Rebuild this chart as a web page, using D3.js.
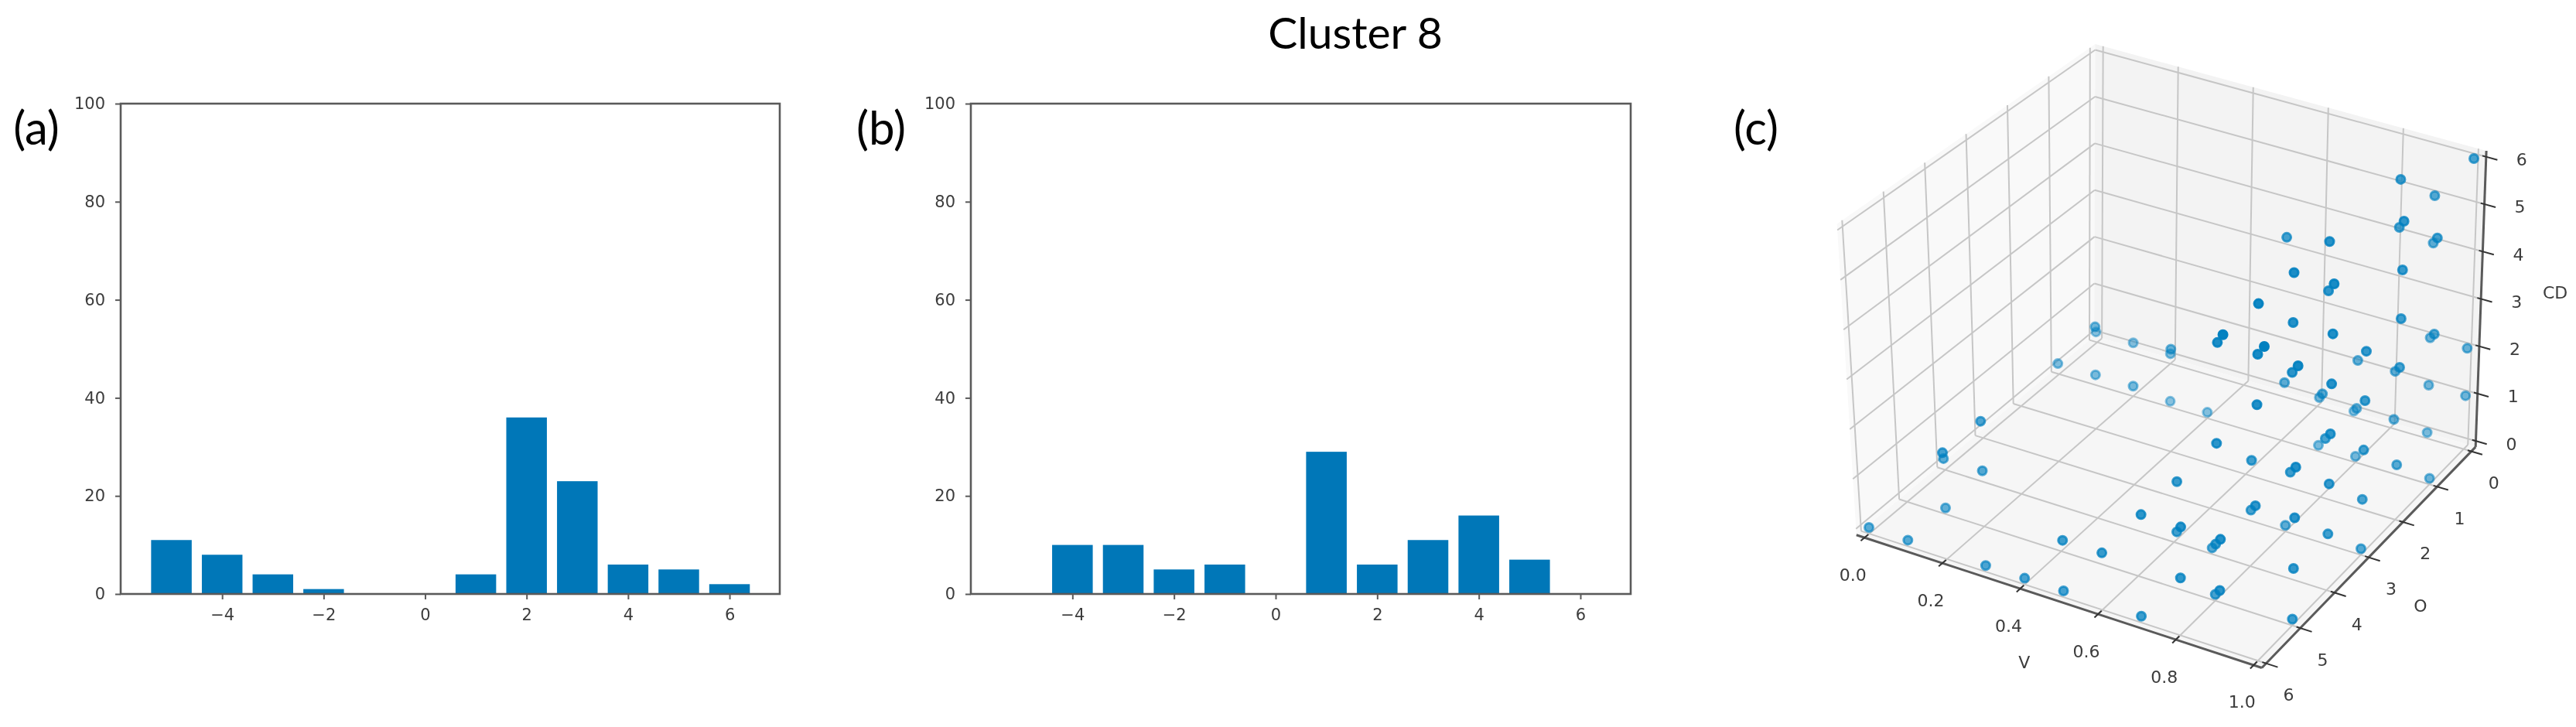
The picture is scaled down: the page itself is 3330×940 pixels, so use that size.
<!DOCTYPE html>
<html>
<head>
<meta charset="utf-8">
<style>
body { margin:0; background:#fff; }
svg { display:block; }
.plot { filter:blur(0.6px); }
</style>
<script src="https://cdnjs.cloudflare.com/ajax/libs/d3/7.8.5/d3.min.js"></script>
</head>
<body>
<script>
var width = 3330, height = 940;

// bar values (a) and (b)
var barBins = [-5,-4,-3,-2,-1,0,1,2,3,4,5,6];
var barsA = [11,8,4,1,0,0,4,36,23,6,5,2];
var barsB = [0,10,10,5,6,0,29,6,11,16,7,0];
var barTicksX = [-4,-2,0,2,4,6];
var barTicksY = [0,20,40,60,80,100];

// scatter values of panel (c)
var pointsV = [.2,.1,.2,.1,.2,.3,.2,.2,.1,.2,.1,0,.1,.3,.4,.5,.7,.5,.6,.7,.4,.3,
  1,.9,.9,1,.9,1,.9,.7,.9,.9,1,1,.9,.9,.9,1,1,.9,.8,1,.9,1,.8,1,.9,1,1,.9,1,.9,.7,1,.8,.7,1,.8,.7,.9,1,.9,.9,.3,.4,
  .9,1,.9,.7,1,.8,.8,1,1,.8,1,.9,1,.7,1,.9,.8,1,.8,1,.8,.7,1,.9,.8,.7,1,.8,.9,.8,1];
var pointsO = [2,1,1,2,2,2,5,6,5,5,5,6,6,6,6,6,6,6,6,6,2,1,
  0,1,0,2,1,1,0,2,3,4,2,4,3,5,4,2,4,6,5,6,5,3,1,1,0,0,2,1,5,4,2,4,2,1,3,1,0,0,0,1,0,1,1,
  5,4,3,1,3,1,5,2,1,4,5,4,4,5,3,5,4,5,3,4,6,5,3,6,5,4,5,6,6,5,5];
var pointsCD = [2,1,1,1,1,1,2,2,1,1,0,0,0,0,0,0,0,1,1,2,2,1,
  6,6,5,6,5,5,4,5,6,6,5,6,5,6,5,4,5,6,5,6,5,4,2,3,2,2,3,2,5,4,2,4,2,1,3,1,0,1,1,1,0,0,0,
  4,3,2,0,2,0,3,1,0,2,3,2,2,2,1,2,1,2,0,1,2,1,0,2,1,0,1,1,1,0,0];
var scatterTicksV = [0,.2,.4,.6,.8,1];
var scatterTicks = [0,1,2,3,4,5,6];

var blue = "#0077b8", dotBlue = "#0080c0", spine = "#5a5a5a", ink = "#3c3c3c";
var fontFig = "Lato, 'Open Sans', sans-serif", fontPlot = "'DejaVu Sans', sans-serif";

var svg = d3.select("body").append("svg")
  .attr("width", width)
  .attr("height", height);

svg.append("rect").attr("width", width).attr("height", height).attr("fill", "#fff");

// figure texts
function figText(x, y, size, s) {
  svg.append("text")
    .attr("x", x).attr("y", y)
    .attr("text-anchor", "middle")
    .attr("font-family", fontFig)
    .attr("font-size", size)
    .attr("fill", "#000")
    .text(s);
}
figText(1752, 63, 57, "Cluster 8");
figText(47, 187, 60, "(a)");
figText(1139, 187, 60, "(b)");
figText(2270, 187, 60, "(c)");

// bar panels
function barPanel(left, right, top, bottom, values) {
  var g = svg.append("g").attr("class", "plot");
  var x = d3.scaleLinear().domain([-6.0, 6.99]).range([left, right]);
  var y = d3.scaleLinear().domain([0, 100]).range([bottom, top]);

  g.selectAll("rect.bar")
    .data(values)
    .enter()
    .append("rect")
    .attr("class", "bar")
    .attr("x", function (d, i) { return x(barBins[i] - 0.4); })
    .attr("width", x(0.8) - x(0))
    .attr("y", function (d) { return y(d); })
    .attr("height", function (d) { return y(0) - y(d); })
    .attr("fill", blue);

  var ax = g.append("g")
    .attr("transform", "translate(0," + bottom + ")")
    .call(d3.axisBottom(x).tickValues(barTicksX).tickSize(7).tickPadding(12));
  var ay = g.append("g")
    .attr("transform", "translate(" + left + ",0)")
    .call(d3.axisLeft(y).tickValues(barTicksY).tickSize(7).tickPadding(13));

  [ax, ay].forEach(function (a) {
    a.select(".domain").remove();
    a.selectAll("line").attr("stroke", spine).attr("stroke-width", 2);
    a.selectAll("text")
      .attr("font-family", fontPlot)
      .attr("font-size", 21)
      .attr("fill", ink);
  });

  g.append("rect")
    .attr("x", left).attr("y", top)
    .attr("width", right - left).attr("height", bottom - top)
    .attr("fill", "none")
    .attr("stroke", spine)
    .attr("stroke-width", 2.6);
}
barPanel(156, 1008, 134, 768, barsA);
barPanel(1255, 2108, 134, 768, barsB);

// panel (c): the projection is fixed by where the 8 corners of the data box land
var cornerFloor = [[2711,435],[3185,573],[2416,682],[2919,846]]; // V0 O0, V1 O0, V0 O6, V1 O6
var cornerTop = [[2712,72],[3198,205],[2393,296],[2927,448]];

var vs = d3.scaleLinear().domain([0, 1]).range([0, 1]);
var os = d3.scaleLinear().domain([0, 6]).range([0, 1]);
var zs = d3.scaleLinear().domain([0, 6]).range([0, 1]);

function project(v, o, cd) {
  var a = vs(v), b = os(o), t = zs(cd);
  return [0, 1].map(function (i) {
    var f = (cornerFloor[0][i] * (1 - a) + cornerFloor[1][i] * a) * (1 - b) +
            (cornerFloor[2][i] * (1 - a) + cornerFloor[3][i] * a) * b;
    var u = (cornerTop[0][i] * (1 - a) + cornerTop[1][i] * a) * (1 - b) +
            (cornerTop[2][i] * (1 - a) + cornerTop[3][i] * a) * b;
    return f * (1 - t) + u * t;
  });
}

var g3 = svg.append("g").attr("class", "plot");
var v0 = -0.021, v1 = 1.021, m0 = -0.125, m1 = 6.125;
var line = d3.line();

function seg(a, b, color, w) {
  g3.append("path")
    .attr("d", line([project(a[0], a[1], a[2]), project(b[0], b[1], b[2])]))
    .attr("stroke", color)
    .attr("stroke-width", w)
    .attr("fill", "none");
}
function pane(list, color) {
  g3.append("path")
    .attr("d", line(list.map(function (p) { return project(p[0], p[1], p[2]); })) + "Z")
    .attr("fill", color);
}

pane([[v0,m0,m0],[v0,m1,m0],[v0,m1,m1],[v0,m0,m1]], "#f9f9f9");
pane([[v0,m0,m0],[v1,m0,m0],[v1,m0,m1],[v0,m0,m1]], "#f3f3f3");
pane([[v0,m0,m0],[v1,m0,m0],[v1,m1,m0],[v0,m1,m0]], "#f6f6f6");

var gridColor = "#c6c6c6";
scatterTicksV.forEach(function (k) {
  seg([k,m1,m0], [k,m0,m0], gridColor, 2);
  seg([k,m0,m0], [k,m0,m1], gridColor, 2);
});
scatterTicks.forEach(function (k) {
  seg([v1,k,m0], [v0,k,m0], gridColor, 2);
  seg([v0,k,m0], [v0,k,m1], gridColor, 2);
  seg([v0,m1,k], [v0,m0,k], gridColor, 2);
  seg([v0,m0,k], [v1,m0,k], gridColor, 2);
});

// axis lines and ticks
seg([v0,m1,m0], [v1,m1,m0], spine, 3);
seg([v1,m1,m0], [v1,m0,m0], spine, 3);
seg([v1,m0,m0], [v1,m0,m1], spine, 3);

function label3(p, dx, dy, s) {
  g3.append("text")
    .attr("x", p[0] + dx).attr("y", p[1] + dy)
    .attr("text-anchor", "middle")
    .attr("dominant-baseline", "central")
    .attr("font-family", fontPlot)
    .attr("font-size", 22)
    .attr("fill", ink)
    .text(s);
}
scatterTicksV.forEach(function (k) {
  seg([k,m1 - 0.1,m0], [k,m1 + 0.1,m0], "#333", 2);
  label3(project(k, m1, m0), -15, 48, k.toFixed(1));
});
scatterTicks.forEach(function (k) {
  seg([v1 - 0.01,k,m0], [v1 + 0.03,k,m0], "#333", 2);
  label3(project(v1, k, m0), 29, 41, k);
  seg([v1 - 0.01,m0,k], [v1 + 0.03,m0,k], "#333", 2);
  label3(project(v1, m0, k), 46, 4, k);
});
label3(project(0.5, m1, m0), -45, 79, "V");
label3(project(v1, 3, m0), 67, 63, "O");
label3(project(v1, m0, 3), 96, -8, "CD");

// points, far ones first, fading with depth the way the source plot does
var shade = d3.scaleLinear().domain([0, 1.683]).range([0.35, 1]);
function depth(i) {
  return 0.433 * vs(pointsV[i]) + 0.75 * os(pointsO[i]) + 0.5 * zs(pointsCD[i]);
}
var order = d3.range(pointsV.length).sort(function (a, b) { return depth(a) - depth(b); });

g3.selectAll("circle")
  .data(order)
  .enter()
  .append("circle")
  .attr("cx", function (i) { return project(pointsV[i], pointsO[i], pointsCD[i])[0]; })
  .attr("cy", function (i) { return project(pointsV[i], pointsO[i], pointsCD[i])[1]; })
  .attr("r", 5.5)
  .attr("fill", dotBlue)
  .attr("fill-opacity", function (i) { return shade(depth(i)); })
  .attr("stroke", dotBlue)
  .attr("stroke-width", 3)
  .attr("stroke-opacity", function (i) { return shade(depth(i)); });
</script>
</body>
</html>
